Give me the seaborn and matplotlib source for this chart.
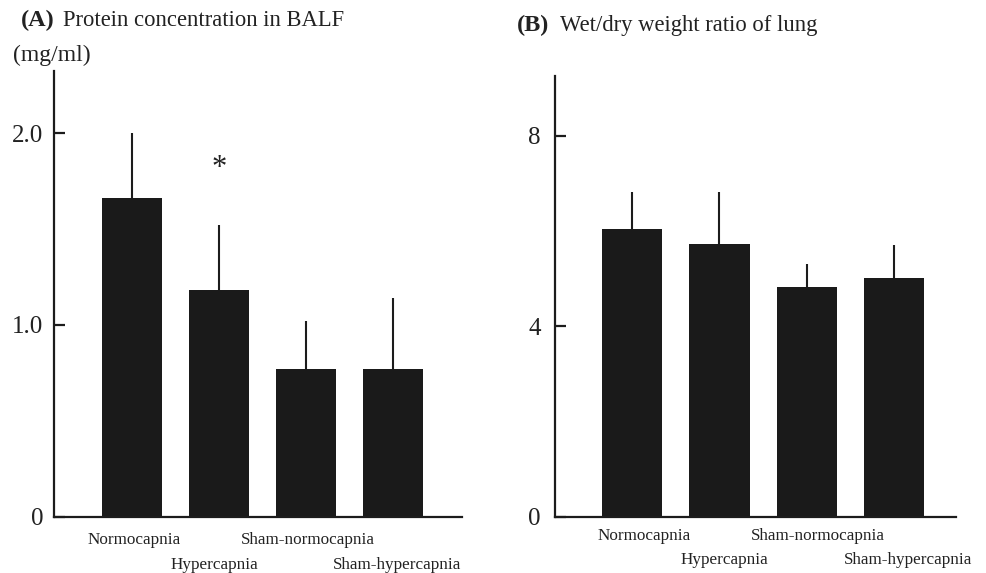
import matplotlib
matplotlib.use("Agg")
import matplotlib.pyplot as plt
import matplotlib.transforms as mtransforms
import seaborn as sns
import numpy as np
import pandas as pd

# ---- data ----
groups = ["Normocapnia", "Hypercapnia", "Sham-normocapnia", "Sham-hypercapnia"]
protein_mean = [1.66, 1.18, 0.77, 0.77]
protein_err = [0.34, 0.34, 0.25, 0.37]
wetdry_mean = [6.04, 5.73, 4.82, 5.02]
wetdry_err = [0.78, 1.09, 0.48, 0.69]
protein_ticks = [0, 1, 2]
protein_ticklabels = ["0", "1.0", "2.0"]
wetdry_ticks = [0, 4, 8]
wetdry_ticklabels = ["0", "4", "8"]

sns.set_theme(style="white")
plt.rcParams["font.family"] = ["Liberation Serif", "DejaVu Serif"]

BAR = "#1a1a1a"
LINE = "#1c1c1c"

fig = plt.figure(figsize=(9.86, 5.73), dpi=100)
axA = fig.add_axes([0.0551, 0.0983, 0.4132, 0.7778])
axB = fig.add_axes([0.5626, 0.0983, 0.4073, 0.7691])


def draw(ax, means, errs, ylim, xlim, yticks, yticklabels, ypad, xoffs, pad1, pad2):
    df = pd.DataFrame({"group": groups, "value": means})
    sns.barplot(data=df, x="group", y="value", color=BAR, saturation=1,
                width=0.69, ax=ax, linewidth=0, errorbar=None)
    pos = np.arange(len(groups))
    ax.errorbar(pos, means, yerr=[np.zeros(len(errs)), errs], fmt="none",
                ecolor=LINE, elinewidth=1.5, capsize=0, zorder=1)
    ax.set_ylim(*ylim)
    ax.set_xlim(*xlim)
    ax.set_xlabel("")
    ax.set_ylabel("")
    for s in ["top", "right"]:
        ax.spines[s].set_visible(False)
    for s in ["left", "bottom"]:
        ax.spines[s].set_color(LINE)
        ax.spines[s].set_linewidth(1.6)
    ax.set_yticks(yticks, labels=yticklabels)
    ax.tick_params(axis="y", direction="in", length=8, width=1.6, color=LINE,
                   labelsize=18, pad=ypad, labelcolor="#222222", left=True)
    ax.set_xticks(pos[0::2], labels=groups[0::2])
    ax.set_xticks(pos[1::2], labels=groups[1::2], minor=True)
    ax.tick_params(axis="x", which="major", length=0, pad=pad1, labelsize=12.3,
                   labelcolor="#222222")
    ax.tick_params(axis="x", which="minor", length=0, pad=pad2, labelsize=12.3,
                   labelcolor="#222222")
    labels = ax.get_xticklabels() + ax.get_xticklabels(minor=True)
    order = [0, 2, 1, 3]
    for lab, i in zip(labels, order):
        lab.set_transform(lab.get_transform() +
                          mtransforms.ScaledTranslation(xoffs[i] / 100, 0, fig.dpi_scale_trans))


draw(axA, protein_mean, protein_err, (0, 2.325), (-0.897, 3.787),
     protein_ticks, protein_ticklabels, 8, [2, -5, 2, 4], 11, 29)
draw(axB, wetdry_mean, wetdry_err, (0, 9.26), (-0.888, 3.714),
     wetdry_ticks, wetdry_ticklabels, 10, [12, 5, 11, 14], 8.5, 25.5)

# significance star
axA.text(1, 1.815, "*", ha="center", va="center", fontsize=22, color="#222222")

# titles
fig.text(20.7 / 986, 1 - 26 / 573, "(A)", fontsize=17.5, fontweight="bold",
         ha="left", va="baseline", color="#222222")
fig.text(63 / 986, 1 - 26 / 573, "Protein concentration in BALF", fontsize=16.3,
         ha="left", va="baseline", color="#222222")
fig.text(13 / 986, 1 - 61 / 573, "(mg/ml)", fontsize=17,
         ha="left", va="baseline", color="#222222")
fig.text(517 / 986, 1 - 31 / 573, "(B)", fontsize=17.5, fontweight="bold",
         ha="left", va="baseline", color="#222222")
fig.text(559.7 / 986, 1 - 31 / 573, "Wet/dry weight ratio of lung", fontsize=16.3,
         ha="left", va="baseline", color="#222222")

fig.savefig("out.png", dpi=100, facecolor="white")
